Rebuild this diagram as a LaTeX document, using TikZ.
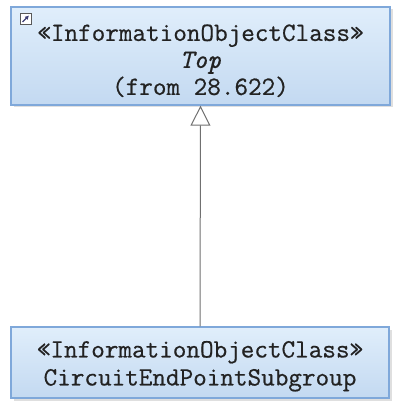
\documentclass[tikz,border=0pt]{standalone}
\usepackage{fontspec}
\newfontfamily\umlfont[FakeBold=0.6]{Latin Modern Mono}
\usetikzlibrary{arrows.meta}
\usetikzlibrary{shadows}
\definecolor{boxtop}{HTML}{E0EEFB}
\definecolor{boxbot}{HTML}{C3D9F1}
\definecolor{boxline}{HTML}{7FA8DA}
\definecolor{umltext}{HTML}{222222}
\definecolor{linkgray}{HTML}{707070}
\newcommand{\umlstrut}{\rule{0pt}{26pt}}
\tikzset{
	umlclass/.style={rectangle,draw=boxline,line width=1.3pt,top color=boxtop,bottom color=boxbot,
		drop shadow={opacity=0.25,shadow xshift=2.5pt,shadow yshift=-2.5pt},
		align=center,text=umltext,inner sep=0pt,
		font=\umlfont\fontsize{26.4}{27}\selectfont},
	generalize/.style={draw=linkgray,line width=1pt,-{Triangle[open,width=20pt,length=20pt]}}
}

\begin{document}
\begin{tikzpicture}[x=1pt,y=-1pt]
			\useasboundingbox (0,0) rectangle (398,406);
			\node[umlclass,minimum width=379pt,minimum height=98pt] (top) at (200.5,56) {\umlstrut\guillemotleft InformationObjectClass\guillemotright\\ \textit{Top}\\ (from 28.622)};
			\node[umlclass,minimum width=378pt,minimum height=71pt] (subgroup) at (200,362.5) {\rule{0pt}{24pt}\guillemotleft InformationObjectClass\guillemotright\\[1pt] CircuitEndPointSubgroup};
			\draw[generalize] (subgroup.north) -- (top.south);
			% link icon in the corner
			\draw[draw=gray!70!black,fill=white,line width=0.9pt] (20,13) rectangle (31,24);
			\draw[draw=blue!30!gray!70!black,line width=1.3pt,-{Latex[length=4pt,width=4.5pt]}] (22.5,22) -- (29,15.5);
		\end{tikzpicture}
\end{document}
